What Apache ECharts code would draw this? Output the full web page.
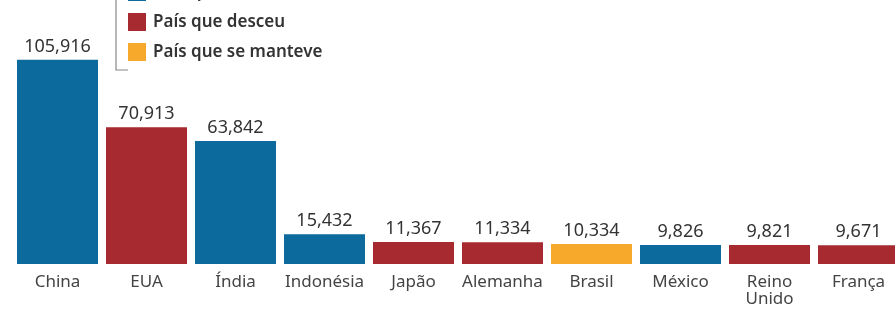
<!DOCTYPE html>
<html>
<head>
<meta charset="utf-8">
<script src="https://cdn.jsdelivr.net/npm/echarts@6/dist/echarts.min.js"></script>
<style>
  html, body { margin: 0; padding: 0; background: #fff; }
  #chart { width: 895px; height: 313px; }
</style>
</head>
<body>
<div id="chart"></div>
<script>
// países (2030), valores e situação no ranking
var countries = ['China', 'EUA', 'Índia', 'Indonésia', 'Japão', 'Alemanha', 'Brasil', 'México', 'Reino\nUnido', 'França'];
var values = [105.916, 70.913, 63.842, 15.432, 11.367, 11.334, 10.334, 9.826, 9.821, 9.671];
var rankStatus = ['subiu', 'desceu', 'subiu', 'subiu', 'desceu', 'desceu', 'manteve', 'subiu', 'desceu', 'desceu'];

var legendNames = ['País que subiu', 'País que desceu', 'País que se manteve'];
var legendKeys = ['subiu', 'desceu', 'manteve'];
var statusColors = { subiu: '#0c6a9c', desceu: '#a62a2f', manteve: '#f7a92c' };

function render_chart(divId) {
    var dom = document.getElementById(divId);
    var myChart = echarts.init(dom);
    var font = '"Noto Sans", sans-serif';

    var barData = values.map(function (v, i) {
        return { value: v, itemStyle: { color: statusColors[rankStatus[i]] } };
    });

    // legenda desenhada à mão (colchete + quadrados)
    var graphics = [
        {
            type: 'text', left: 4, top: -14,
            style: { text: '2030', font: 'bold 17px ' + font, fill: '#333' }
        },
        {
            type: 'polyline',
            shape: { points: [[116, 0], [116, 70], [128, 70]] },
            style: { stroke: '#888', lineWidth: 1.2, fill: null }
        }
    ];
    legendKeys.forEach(function (key, i) {
        var y = -17 + i * 30;
        graphics.push({
            type: 'rect',
            shape: { x: 128, y: y, width: 18, height: 18 },
            style: { fill: statusColors[key] }
        });
        graphics.push({
            type: 'text', x: 153, y: y + 9,
            style: {
                text: legendNames[i], font: '600 17px ' + font, fill: '#333',
                verticalAlign: 'middle'
            }
        });
    });

    var option = {
        animation: false,
        // a última barra (França) sai do quadro, como no original
        grid: { left: 13, width: 890, top: 52, bottom: 49, outerBoundsMode: 'none', containLabel: false },
        xAxis: {
            type: 'category',
            data: countries,
            axisLine: { show: false },
            axisTick: { show: false },
            axisLabel: {
                interval: 0, margin: 10,
                fontFamily: font, fontSize: 17, color: '#444', lineHeight: 17
            }
        },
        yAxis: {
            type: 'value', min: 0, max: 110,
            show: false, splitLine: { show: false }
        },
        series: [
            {
                type: 'bar',
                data: barData,
                barWidth: 81,
                label: {
                    show: true,
                    position: 'top',
                    distance: 4,
                    fontFamily: font,
                    fontSize: 18,
                    color: '#333',
                    formatter: function (p) {
                        return p.value.toFixed(3).replace('.', ',');
                    }
                }
            }
        ],
        graphic: graphics
    };
    myChart.setOption(option);
}

render_chart('chart');
</script>
</body>
</html>
